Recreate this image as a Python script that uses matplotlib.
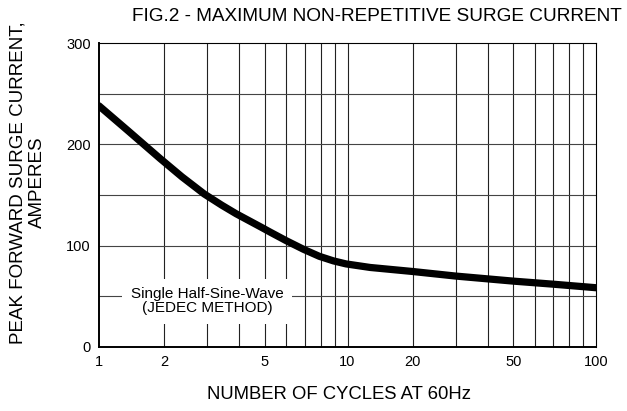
import numpy as np
import matplotlib.pyplot as plt
from matplotlib.ticker import FixedLocator, NullLocator

plt.rcParams['font.family'] = ['Liberation Sans', 'DejaVu Sans']

# curve
cycles = [1, 1.39, 1.92, 2.37, 2.92, 3.42, 3.89, 4.86, 5.22, 5.99, 6.93, 7.92, 8.9, 9.88,
          12.9, 20, 30, 50, 70, 100]
surge_amps = [238, 213, 186, 168, 151, 140, 131.5, 118, 113.5, 105, 96.5, 89.5, 85, 82,
              78.5, 74.5, 70, 65, 62, 58.5]

x_ticks = [1, 2, 5, 10, 20, 50, 100]
x_grid = [2, 3, 4, 5, 6, 7, 8, 9, 10, 20, 30, 40, 50, 60, 70, 80, 90]
y_ticks = [0, 100, 200, 300]
y_grid = [50, 100, 150, 200, 250]


# the printed log paper is a bit squeezed toward the start of each decade
def fwd(x):
    x = np.clip(np.asarray(x, dtype=float), 1e-3, None)
    d = np.floor(np.log10(x) + 1e-9)
    m = x / 10 ** d
    return d + np.log((m + 0.5) / 1.5) / np.log(7)


def inv(p):
    p = np.asarray(p, dtype=float)
    d = np.floor(p)
    return (1.5 * 7 ** (p - d) - 0.5) * 10 ** d


fig = plt.figure(figsize=(6.27, 4.11), dpi=100)
ax = fig.add_axes([99 / 627, 1 - 347 / 411, 497 / 627, 304 / 411])

ax.set_xscale('function', functions=(fwd, inv))
ax.set_xlim(1, 100)
ax.set_ylim(0, 300)

for gx in x_grid:
    ax.axvline(gx, color='#222222', lw=0.8, zorder=1)
for gy in y_grid:
    ax.axhline(gy, color='#444444', lw=0.8, zorder=1)

ax.plot(cycles, surge_amps, color='black', lw=5.2, solid_capstyle='round',
        solid_joinstyle='round', zorder=3)

ax.text(3.0, 45, 'Single Half-Sine-Wave\n(JEDEC METHOD)', ha='center', va='center',
        fontsize=11, linespacing=1.0, zorder=2,
        bbox=dict(facecolor='white', edgecolor='none', pad=6))

ax.xaxis.set_major_locator(FixedLocator(x_ticks))
ax.xaxis.set_minor_locator(NullLocator())
ax.set_xticklabels([str(v) for v in x_ticks])
ax.set_yticks(y_ticks)
ax.tick_params(length=0, labelsize=10.5, pad=6)

for side in ['top', 'right']:
    ax.spines[side].set_linewidth(0.8)
for side in ['left', 'bottom']:
    ax.spines[side].set_linewidth(1.4)

fig.text(0.541, 0.039, 'NUMBER OF CYCLES AT 60Hz', ha='center', va='center', fontsize=13.3)
fig.text(0.044, 0.556, 'PEAK FORWARD SURGE CURRENT,\nAMPERES', rotation=90,
         ha='center', va='center', fontsize=13.5, linespacing=1.15)
fig.text(0.992, 0.96, 'FIG.2 - MAXIMUM NON-REPETITIVE SURGE CURRENT', ha='right',
         va='center', fontsize=13.7)

fig.savefig('out.png', dpi=100)
